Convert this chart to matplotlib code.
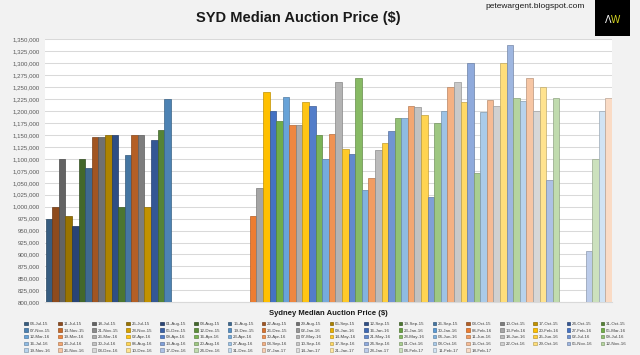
import matplotlib
matplotlib.use("Agg")
import matplotlib.pyplot as plt
import matplotlib.colors as mcolors
import numpy as np
import pandas as pd

plt.rcParams['font.family'] = ['Liberation Sans', 'DejaVu Sans']

# weekly auction dates, one series per week (04-Jul-15 .. 18-Feb-17)
weeks = pd.date_range("2015-07-04", periods=86, freq="7D")
labels = [d.strftime("%d-%b-%y") for d in weeks]

# median auction price per week, None = no data that week
prices_2015 = [975000, 1000000, 1100000, 980000, 960000, 1100000, 1080000,
               1145000, 1145000, 1150000, 1150000, 1000000, 1107500, 1150000,
               1150000, 1000000, 1140000, 1160000, 1225000]
gap_summer = [None] * 12
prices_2016 = [980000, 1040000, 1240000, 1200000, 1180000, 1230000, 1170000,
               1170000, 1220000, 1210000, 1150000, 1100000, 1152500, 1260000,
               1120000, 1110000, 1270000, 1035000, 1060000, 1118000, 1132500,
               1158000, 1185000, 1185000, 1210000, 1208000, 1191000, 1020000,
               1175000, 1200000, 1250000, 1260000, 1220000, 1300000, 1070000,
               1197500, 1222500, 1210000, 1300000, 1338000, 1228000, 1221000,
               1270000, 1200000, 1250000, 1055000, 1228000]
gap_xmas = [None] * 4
prices_2017 = [907500, 1100000, 1200000, 1228000]
prices = prices_2015 + gap_summer + prices_2016 + gap_xmas + prices_2017

accents = ['#5B9BD5', '#ED7D31', '#A5A5A5', '#FFC000', '#4472C4', '#70AD47']


def shade(hexcol, t):
    c = np.array(mcolors.to_rgb(hexcol))
    if t < 0:
        c = c * (1 + t)
    else:
        c = c + (1 - c) * t
    return tuple(np.clip(c, 0, 1))


fig = plt.figure(figsize=(6.4, 3.55), dpi=100)
fig.patch.set_facecolor('#F2F2F2')
ax = fig.add_axes([0.0703, 0.1485, 0.8860, 0.7405])
ax.set_facecolor('white')

handles = []
for i, (lab, v) in enumerate(zip(labels, prices)):
    t = 0.08 * (i // 6 - 5)   # darker early series, lighter late ones (excel style)
    fc = shade(accents[i % 6], t)
    ec = shade(fc, -0.25)
    h = np.nan if v is None else v
    bc = ax.bar([i], [h], width=1.0, color=fc, edgecolor=ec, linewidth=0.5,
                label=lab, zorder=3)
    handles.append(bc.patches[0])

ax.set_xlim(-0.6, 85.5)
ax.set_ylim(800000, 1350000)
ax.set_yticks(np.arange(800000, 1350001, 25000))
ax.yaxis.set_major_formatter(matplotlib.ticker.FuncFormatter(lambda v, p: f"{v:,.0f}"))
ax.tick_params(axis='y', length=0, pad=3.6, labelsize=4.4, labelcolor='#595959')
ax.set_xticks([])
ax.grid(axis='y', color='#D9D9D9', linewidth=0.75, zorder=0)
for s in ['left', 'right', 'top']:
    ax.spines[s].set_visible(False)
ax.spines['bottom'].set_color('#D9D9D9')

# row-major legend: 18 columns
ncol = 18
order = [r * ncol + c for c in range(ncol) for r in range(5) if r * ncol + c < len(labels)]
fig.legend([handles[k] for k in order], [labels[k] for k in order],
           ncol=ncol, loc='upper left', bbox_to_anchor=(0.038, 0.094),
           frameon=False, fontsize=3.2, handlelength=0.8, handleheight=0.8,
           handletextpad=0.4, columnspacing=1.78, labelspacing=0.55,
           borderpad=0, borderaxespad=0, labelcolor='#404040')

fig.text(0.466, 0.948, "SYD Median Auction Price ($)", ha='center', va='center',
         fontsize=10.5, fontweight='bold', color='#1a1a1a')
fig.text(0.758, 0.981, "petewargent.blogspot.com", ha='left', va='center',
         fontsize=6.0, color='#1a1a1a')
fig.text(0.513, 0.117, "Sydney Median Auction Price ($)", ha='center', va='center',
         fontsize=5.5, fontweight='bold', color='#1a1a1a')

# logo box
fig.patches.append(plt.Rectangle((0.930, 0.899), 0.054, 0.101, transform=fig.transFigure,
                                 facecolor='black', edgecolor='none'))
fig.text(0.955, 0.944, "Λ", ha='right', va='center', fontsize=7, color='white')
fig.text(0.955, 0.944, "W", ha='left', va='center', fontsize=7, color='#D8D820')

fig.savefig("out.png", dpi=100, facecolor=fig.get_facecolor())
